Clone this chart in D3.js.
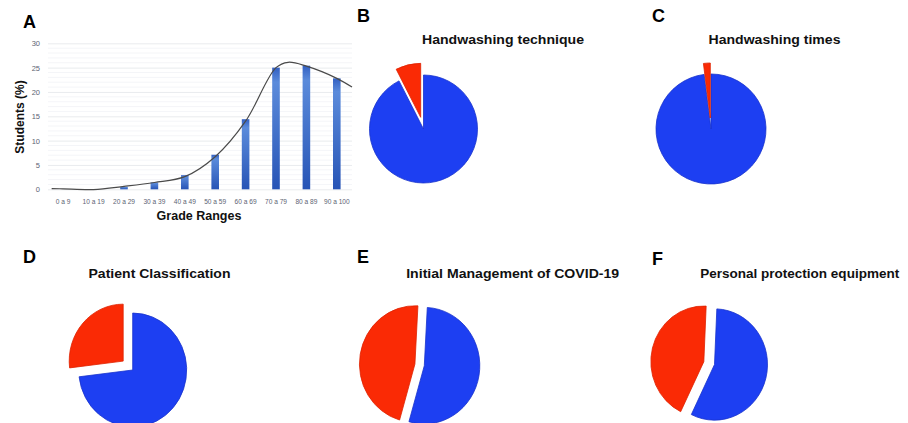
<!DOCTYPE html>
<html>
<head>
<meta charset="utf-8">
<script src="https://cdn.jsdelivr.net/npm/d3@7/dist/d3.min.js"></script>
<style>
  html, body { margin: 0; padding: 0; background: #fff; }
  svg { display: block; font-family: "Liberation Sans", Arial, Helvetica, sans-serif; }
</style>
</head>
<body>
<svg id="chart" width="908" height="423"></svg>
<script>
// ---------- DATA ----------
const gradeRanges = ["0 a 9", "10 a 19", "20 a 29", "30 a 39", "40 a 49", "50 a 59", "60 a 69", "70 a 79", "80 a 89", "90 a 100"];
const studentPct = [0, 0, 0.5, 1.4, 2.9, 7.1, 14.4, 25.0, 25.4, 22.8];
const yTicks = [0, 5, 10, 15, 20, 25, 30];
// smoothed trend line (position in category units, value in %)
const trendPos = [-0.38, 0, 1, 2, 3, 4, 5, 6, 7, 7.4, 8, 9, 9.5];
const trendPct = [0.15, 0.1, -0.05, 0.6, 1.4, 2.6, 6.7, 14.0, 25.0, 26.1, 25.3, 22.8, 21.0];

const panelLetters = ["A", "B", "C", "D", "E", "F"];
const pieTitles = ["Handwashing technique", "Handwashing times", "Patient Classification", "Initial Management of COVID-19", "Personal protection equipment"];
// [correct (blue), incorrect (red)] in %
const pieBlue = [92.5, 98, 73.1, 53.6, 56.5];
const pieRed  = [7.5, 2, 26.9, 46.4, 43.5];

// ---------- LAYOUT ----------
const svg = d3.select("#chart");
const W = 908, H = 423;
const BLUE = "#1d3ff2", BLUE_EDGE = "#1832cc";
const RED = "#fa2a05", RED_EDGE = "#de2200";
const FONT = "'Liberation Sans', Arial, Helvetica, sans-serif";

// gradient for bars
const defs = svg.append("defs");
const grad = defs.append("linearGradient").attr("id", "barGrad")
  .attr("x1", 0).attr("y1", 0).attr("x2", 0).attr("y2", 1);
grad.append("stop").attr("offset", "0%").attr("stop-color", "#3360c2");
grad.append("stop").attr("offset", "12%").attr("stop-color", "#5b8bdb");
grad.append("stop").attr("offset", "100%").attr("stop-color", "#2754b6");

// ---------- PANEL A ----------
const ax = { left: 48, right: 352, top: 43.3, bottom: 189.3 };
const x = d3.scaleBand().domain(gradeRanges).range([ax.left, ax.right]).paddingInner(0).paddingOuter(0);
const y = d3.scaleLinear().domain([0, 30]).range([ax.bottom, ax.top]);
const xc = d3.scaleLinear().domain([0, gradeRanges.length - 1])
  .range([x(gradeRanges[0]) + x.bandwidth() / 2, x(gradeRanges[gradeRanges.length - 1]) + x.bandwidth() / 2]);

const gA = svg.append("g");
// minor gridlines
gA.append("g").selectAll("line").data(d3.range(0, 31, 1).filter(v => v % 5 !== 0)).join("line")
  .attr("x1", ax.left).attr("x2", ax.right)
  .attr("y1", d => y(d)).attr("y2", d => y(d))
  .attr("stroke", "#f1f3f6").attr("stroke-width", 0.8);
// major gridlines via axis
const yAxis = d3.axisLeft(y).tickValues(yTicks).tickSize(-(ax.right - ax.left)).tickPadding(8);
const gy = gA.append("g").attr("transform", `translate(${ax.left},0)`).call(yAxis);
gy.select(".domain").remove();
gy.selectAll(".tick line").attr("stroke", "#e3e6ea").attr("stroke-width", 0.8);
gy.selectAll(".tick text").attr("font-family", FONT).attr("font-size", 7.5).attr("fill", "#5d6473");

const xAxis = d3.axisBottom(x).tickSize(0).tickPadding(10);
const gx = gA.append("g").attr("transform", `translate(0,${ax.bottom})`).call(xAxis);
gx.select(".domain").remove();
gx.selectAll(".tick text").attr("font-family", FONT).attr("font-size", 6.6).attr("fill", "#5d6473");

// bars
const barW = 7.6;
gA.append("g").selectAll("rect").data(gradeRanges.map((g, i) => ({ g, v: studentPct[i] }))).join("rect")
  .attr("x", d => x(d.g) + x.bandwidth() / 2 - barW / 2)
  .attr("width", barW)
  .attr("y", d => y(d.v))
  .attr("height", d => y(0) - y(d.v))
  .attr("fill", "url(#barGrad)");

// trend line
const line = d3.line().x(d => xc(d[0])).y(d => y(d[1])).curve(d3.curveCatmullRom.alpha(0.5));
gA.append("path").datum(trendPos.map((p, i) => [p, trendPct[i]]))
  .attr("d", line).attr("fill", "none").attr("stroke", "#4a4a4a").attr("stroke-width", 1.2);

// axis titles
gA.append("text").attr("transform", `translate(24,117) rotate(-90)`).attr("text-anchor", "middle")
  .attr("font-family", FONT).attr("font-weight", "bold").attr("font-size", 12).attr("fill", "#111")
  .text("Students (%)");
gA.append("text").attr("x", 199).attr("y", 220).attr("text-anchor", "middle")
  .attr("font-family", FONT).attr("font-weight", "bold").attr("font-size", 12.5).attr("fill", "#111")
  .text("Grade Ranges");

// ---------- PANEL LETTERS ----------
const letterPos = [[23, 28], [357, 22], [652, 22], [23, 263], [357, 263], [652, 265]];
svg.append("g").selectAll("text").data(panelLetters).join("text")
  .attr("x", (d, i) => letterPos[i][0]).attr("y", (d, i) => letterPos[i][1])
  .attr("font-family", FONT).attr("font-weight", "bold").attr("font-size", 18).attr("fill", "#000")
  .text(d => d);

// ---------- PIES ----------
const titlePos = [[503, 43.5], [774.5, 43.5], [159.5, 278.3], [512.7, 278.3], [799.7, 278.3]];
const titleLen = [162, 132, 142, 213, 199];
const pieLayout = [
  { cx: 423.5, cy: 129, r: 54, sy: 1.0, start: 0, explode: [0, 12] },
  { cx: 711, cy: 129, r: 55, sy: 1.0, start: 0, explode: [0, 11] },
  { cx: 132.7, cy: 370, r: 54, sy: 1.055, start: 0, explode: [0, 12.7] },
  { cx: 424.3, cy: 365.7, r: 55.5, sy: 1.05, start: 0.054, explode: [0, 9.5] },
  { cx: 714.5, cy: 364.5, r: 53, sy: 1.05, start: 0.044, explode: [0, 11] }
];

pieTitles.forEach((title, i) => {
  svg.append("text").attr("x", titlePos[i][0]).attr("y", titlePos[i][1]).attr("text-anchor", "middle")
    .attr("font-family", FONT).attr("font-weight", "bold").attr("font-size", 13.5).attr("fill", "#111")
    .attr("textLength", titleLen[i]).attr("lengthAdjust", "spacingAndGlyphs")
    .text(title);

  const L = pieLayout[i];
  const pie = d3.pie().sort(null).value(d => d.v).startAngle(L.start).endAngle(L.start + 2 * Math.PI);
  const arcs = pie([{ k: "blue", v: pieBlue[i] }, { k: "red", v: pieRed[i] }]);
  const arc = d3.arc().innerRadius(0).outerRadius(L.r);
  const g = svg.append("g").attr("transform", `translate(${L.cx},${L.cy}) scale(1,${L.sy})`);
  g.selectAll("path").data(arcs).join("path")
    .attr("transform", (d, j) => {
      const mid = (d.startAngle + d.endAngle) / 2;
      const e = L.explode[j];
      return `translate(${e * Math.sin(mid)},${-e * Math.cos(mid)})`;
    })
    .attr("d", arc)
    .attr("fill", d => d.data.k === "blue" ? BLUE : RED)
    .attr("stroke", d => d.data.k === "blue" ? BLUE_EDGE : RED_EDGE)
    .attr("stroke-width", 0.8)
    .attr("vector-effect", "non-scaling-stroke");
});
</script>
</body>
</html>
